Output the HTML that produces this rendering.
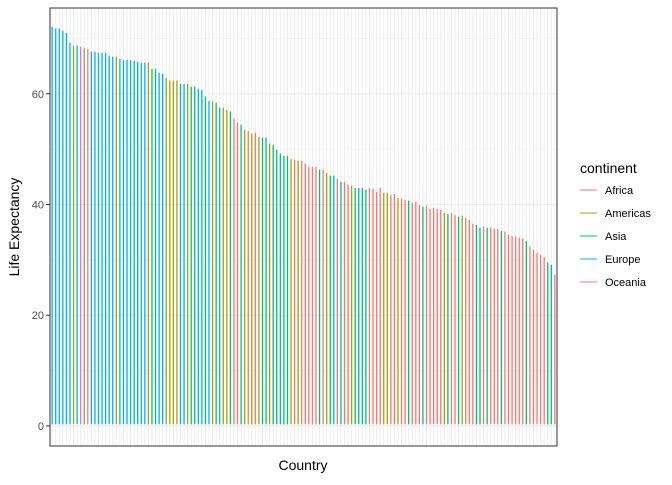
<!DOCTYPE html>
<html><head><meta charset="utf-8"><style>
body{margin:0;background:#fff;font-family:"Liberation Sans",Arial,sans-serif}
</style></head><body>
<svg id="chart" width="672" height="480" xmlns="http://www.w3.org/2000/svg">
<rect width="672" height="480" fill="#fff"/>
<g id="grid"></g><g id="bars"></g><g id="axes"></g>
<rect x="50" y="8" width="507" height="438" fill="none" stroke="#333" stroke-width="1"/>
<text x="303" y="470" font-size="14" text-anchor="middle" fill="#000">Country</text>
<text transform="translate(19,227) rotate(-90)" font-size="14" text-anchor="middle" fill="#000">Life Expectancy</text>
<g id="legend">
<text x="580" y="173" font-size="14" fill="#000">continent</text>
</g>
</svg>
<script>
const values=[72.1,71.8,71.8,71.4,71.0,69.2,68.7,68.7,68.5,68.3,68.1,67.6,67.6,67.4,67.4,67.4,66.9,66.7,66.7,66.3,66.1,66.1,66.1,66.0,65.8,65.6,65.6,65.6,64.5,64.5,63.8,63.6,62.9,62.4,62.4,62.4,61.8,61.8,61.8,61.3,61.3,60.9,60.7,59.5,58.7,58.6,58.4,57.5,57.5,57.1,56.8,55.5,54.8,54.4,53.5,53.3,52.8,53.0,52.2,52.1,52.1,51.0,50.8,49.9,49.2,48.8,48.8,48.2,48.1,47.9,47.9,47.4,46.8,46.8,46.8,46.3,46.3,45.7,45.2,45.2,44.6,44.1,44.1,43.6,43.4,43.0,43.0,43.0,42.7,43.0,42.8,42.3,43.0,42.1,42.1,41.7,41.9,41.2,41.0,40.8,40.7,40.3,40.5,39.9,39.6,39.8,39.2,39.4,39.2,39.0,38.5,38.3,38.5,38.1,37.8,38.0,37.6,37.2,36.5,36.3,35.8,36.0,35.8,35.8,35.6,35.6,35.2,35.1,34.5,34.3,34.2,34.0,33.8,33.4,32.4,31.8,31.3,30.9,30.5,29.5,29.1,27.3];
const continents="E E E E E E Am E Oc Am Oc E E E E E E E Am E E E E As As E E Am As As E E Am Am Am Am E E Am As As E As As E Am As E Am Am As Af Af As Am Af Am Af Am As As Am As As As As As Am Af Am Af Af Af Af Af As Af Am As E Af As Af Af Am As As As As Af Af Af Af Am Am Af Af Am Af Af As Af Af Af As Af Af Af Af Af Am As Af Af As Am Af Af Af As As Af As Af Af Af As Af Af Af Af Af Af As Af Af Af Af Af As As Af".split(" ");
const legendNames=["Africa","Americas","Asia","Europe","Oceania"];
const legendKeys=["Af","Am","As","E","Oc"];
const yTicks=[0,20,40,60];
const colors={Af:"#F8766D",Am:"#A3A500",As:"#00BF7D",E:"#00B0F6",Oc:"#E76BF3"};
const NS="http://www.w3.org/2000/svg";
const L=50,R=557,T=8,B=446;
const n=values.length;
const step=(R-L)/(n-1+1.2);
const xS=i=>L+(0.6+i)*step;
const yMin=-3.63,yMax=75.5;
const yS=v=>B-(v-yMin)/(yMax-yMin)*(B-T);
function mk(tag,attrs,parent){const e=document.createElementNS(NS,tag);for(const k in attrs)e.setAttribute(k,attrs[k]);parent.appendChild(e);return e;}
const grid=document.getElementById('grid'),bars=document.getElementById('bars'),axes=document.getElementById('axes'),legend=document.getElementById('legend');
[10,30,50,70].forEach(v=>{const l=mk('line',{x1:L,x2:R,y1:yS(v),y2:yS(v),stroke:'#f2f2f2','stroke-width':0.55},grid);

});
yTicks.forEach(v=>{const l=mk('line',{x1:L,x2:R,y1:yS(v),y2:yS(v),stroke:'#ebebeb','stroke-width':1.1},grid);


const t=mk('line',{x1:L-4,x2:L,y1:yS(v),y2:yS(v),stroke:'#333','stroke-width':1},axes);


const tx=mk('text',{x:L-6,y:yS(v)+4,'font-size':11,'text-anchor':'end',fill:'#4d4d4d'},axes);
tx.textContent=v;

});
values.forEach((v,i)=>{const g=mk('line',{x1:xS(i),x2:xS(i),y1:T,y2:B,stroke:'#ebebeb','stroke-width':0.9},grid);


const b=mk('rect',{x:xS(i)-0.65,y:yS(v),width:1.3,height:yS(0.3)-yS(v),fill:colors[continents[i]]},bars);

});
legendNames.forEach((nm,i)=>{const y=190+i*23;
const l=mk('line',{x1:580,x2:597,y1:y,y2:y,stroke:colors[legendKeys[i]],'stroke-width':1},legend);


const t=mk('text',{x:605,y:y+4,'font-size':11,fill:'#000'},legend);
t.textContent=nm;

});
</script>
</body></html>
